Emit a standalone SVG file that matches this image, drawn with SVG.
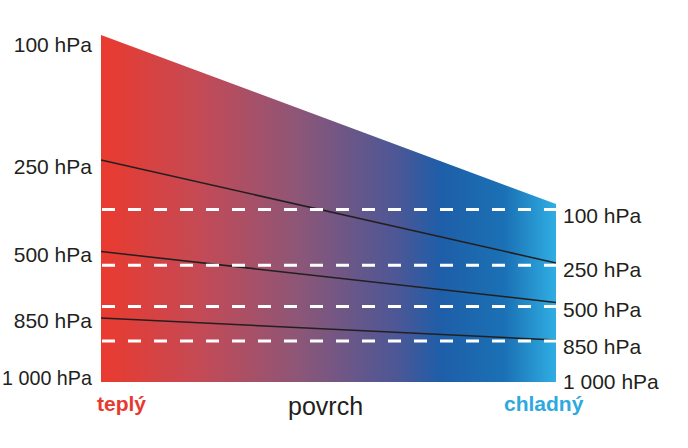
<svg xmlns="http://www.w3.org/2000/svg" width="688" height="448" viewBox="0 0 688 448">
  <defs>
    <linearGradient id="tempGrad" gradientUnits="userSpaceOnUse" x1="101" y1="0" x2="556" y2="0">
      <stop offset="0" stop-color="#EA3A2F"/>
      <stop offset="0.218" stop-color="#C44A55"/>
      <stop offset="0.437" stop-color="#8C5678"/>
      <stop offset="0.657" stop-color="#4A5797"/>
      <stop offset="0.745" stop-color="#1E5EA8"/>
      <stop offset="0.888" stop-color="#1B71B5"/>
      <stop offset="1" stop-color="#2FAEE3"/>
    </linearGradient>
    <style>
      .lbl { font-family: "Liberation Sans", Arial, sans-serif; font-size: 21px; fill: #231f20; }
      .lblL { text-anchor: end; }
      .iso { stroke: #231f20; stroke-width: 1.5; fill: none; }
      .dash { stroke: #ffffff; stroke-width: 3; stroke-dasharray: 13 13; fill: none; }
      .side { font-family: "Liberation Sans", Arial, sans-serif; font-size: 21px; font-weight: bold; }
    </style>
  </defs>
  <rect width="688" height="448" fill="#ffffff"/>

  <g id="column">
    <polygon points="101,35 556,204 556,382 101,382" fill="url(#tempGrad)"/>
  </g>

  <g id="connectors">
    <line class="iso" x1="101" y1="160" x2="556" y2="263"/>
    <line class="iso" x1="101" y1="251.5" x2="556" y2="302.5"/>
    <line class="iso" x1="101" y1="318" x2="556" y2="340"/>
    <line class="dash" x1="102" y1="209.5" x2="556" y2="209.5"/>
    <line class="dash" x1="102" y1="265.3" x2="556" y2="265.3"/>
    <line class="dash" x1="102" y1="306.5" x2="556" y2="306.5"/>
    <line class="dash" x1="102" y1="341" x2="556" y2="341"/>
  </g>

  <g id="left-labels">
    <text class="lbl lblL" x="92" y="52">100 hPa</text>
    <text class="lbl lblL" x="92" y="174">250 hPa</text>
    <text class="lbl lblL" x="92" y="262">500 hPa</text>
    <text class="lbl lblL" x="92" y="328">850 hPa</text>
    <text class="lbl lblL" x="92" y="385" textLength="90" lengthAdjust="spacingAndGlyphs">1 000 hPa</text>
  </g>

  <g id="right-labels">
    <text class="lbl" x="563" y="223">100 hPa</text>
    <text class="lbl" x="563" y="277">250 hPa</text>
    <text class="lbl" x="563" y="317">500 hPa</text>
    <text class="lbl" x="563" y="354">850 hPa</text>
    <text class="lbl" x="563" y="389">1 000 hPa</text>
  </g>

  <g id="bottom-labels">
    <text class="side" x="97" y="411" fill="#E8392F">teplý</text>
    <text x="288" y="415" font-family="'Liberation Sans', Arial, sans-serif" font-size="25" fill="#231f20">povrch</text>
    <text class="side" x="504" y="411" fill="#2EA9E0">chladný</text>
  </g>
</svg>
